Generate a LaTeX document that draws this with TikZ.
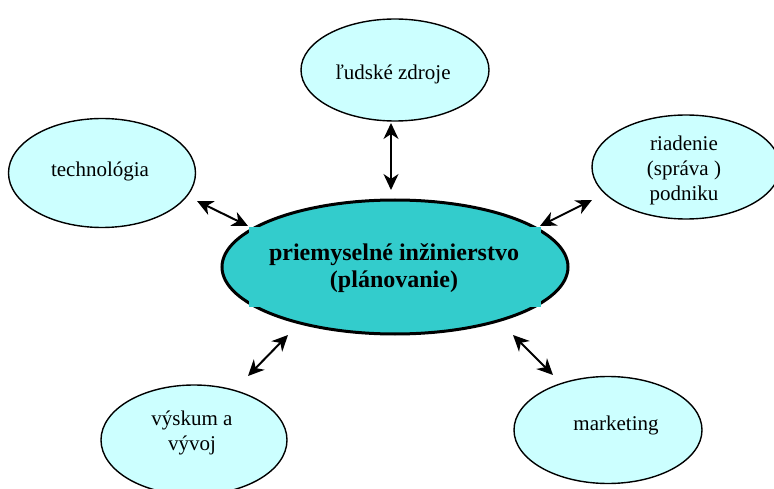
\documentclass[tikz,border=0pt]{standalone}
\usepackage{fontspec}
\setmainfont{Liberation Serif}
\usetikzlibrary{shapes.geometric,arrows.meta}
\definecolor{hubteal}{HTML}{33CCCC}
\definecolor{leafcyan}{HTML}{CCFFFF}
\tikzset{
  leaf/.style={ellipse, draw=black, line width=1.4pt, fill=leafcyan, inner sep=0pt},
  leaftext/.style={align=center, inner sep=0pt, font=\fontsize{21}{25}\selectfont},
  hub/.style={ellipse, draw=black, line width=3pt, fill=hubteal, inner sep=0pt},
  hubtext/.style={align=center, font=\fontsize{24}{27}\selectfont\bfseries},
  link/.style={line width=2pt, {Stealth[length=16pt,width=15pt,inset=5pt]}-{Stealth[length=16pt,width=15pt,inset=5pt]}}
}
\begin{document}
\begin{tikzpicture}[x=1pt,y=-1pt]
\useasboundingbox (0,0) rectangle (774,489);

% central ellipse, its fill patch and its caption
\node[hub, minimum width=346pt, minimum height=134pt] (hub) at (395,267) {};
\fill[hubteal] (249,227) rectangle (541,307);
\node[hubtext] (hubcap) at (394,268) {priemyselné inžinierstvo\\(plánovanie)};

% surrounding areas
\node[leaf, minimum width=188pt, minimum height=102pt] (hr) at (395,70) {};
\node[leaf, minimum width=187pt, minimum height=109pt] (tech) at (102,173) {};
\node[leaf, minimum width=188pt, minimum height=104pt] (mgmt) at (686,167) {};
\node[leaf, minimum width=186pt, minimum height=110pt] (rd) at (194,440) {};
\node[leaf, minimum width=188pt, minimum height=107pt] (mkt) at (608,430) {};

% their captions
\node[leaftext] (hrcap) at (393,74) {ľudské zdroje};
\node[leaftext] (techcap) at (100,171) {technológia};
\node[leaftext] (mgmtcap) at (684,170) {riadenie\\(správa )\\podniku};
\node[leaftext] (rdcap) at (192,433) {výskum a\\vývoj};
\node[leaftext] (mktcap) at (616,425) {marketing};

% arrow end points
\coordinate (a1) at (197,201); \coordinate (b1) at (248,226);
\coordinate (a2) at (391,123); \coordinate (b2) at (391,190);
\coordinate (a3) at (592,200); \coordinate (b3) at (540,226);
\coordinate (a4) at (248,376); \coordinate (b4) at (288,335);
\coordinate (a5) at (553,375); \coordinate (b5) at (513,335);

\draw[link] (a1) -- (b1);
\draw[link] (a2) -- (b2);
\draw[link] (a3) -- (b3);
\draw[link] (a4) -- (b4);
\draw[link] (a5) -- (b5);
\end{tikzpicture}
\end{document}
